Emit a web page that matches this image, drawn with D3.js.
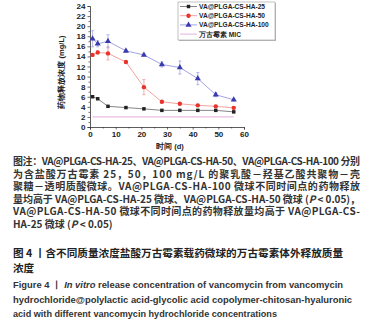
<!DOCTYPE html>
<html>
<head>
<meta charset="utf-8">
<script src="https://cdn.jsdelivr.net/npm/d3@7"></script>
<style>
  body { margin: 0; background: #fff; }
  svg { display: block; }
</style>
</head>
<body>
<div id="chart"></div>
<script>
const width = 370;
const height = 329;

// release data
const days = [1, 3, 7, 14, 21, 28, 35, 42, 49, 56];
const ha25 = [6.0, 5.6, 4.1, 3.85, 3.6, 3.3, 3.3, 3.3, 3.3, 3.0];
const ha50 = [14.3, 14.8, 14.6, 12.9, 7.9, 5.0, 4.6, 4.3, 4.1, 3.8];
const ha100 = [17.5, 16.5, 17.0, 15.1, 14.3, 12.4, 11.8, 9.6, 6.4, 5.4];
const err25 = [0.15, 0.15, 0.15, 0.15, 0.15, 0.15, 0.15, 0.15, 0.15, 0.15];
const err50 = [0.2, 0.3, 1.3, 0.2, 1.5, 0.25, 0.2, 0.2, 0.2, 0.2];
const err100 = [1.6, 0.6, 1.3, 0.2, 0.2, 0.5, 1.3, 1.2, 0.4, 0.2];
const micValue = 2;
const micDays = [1, 56];

const seriesNames = ['VA@PLGA-CS-HA-25', 'VA@PLGA-CS-HA-50', 'VA@PLGA-CS-HA-100'];
const micName = '万古霉素 MIC';
const xTicks = [0, 10, 20, 30, 40, 50, 60];
const yTicks = [0, 2, 4, 6, 8, 10, 12, 14, 16, 18, 20, 22, 24];

// caption lines; *...* marks italic, last flag = justified
const captionLines = [
  ['图注：VA@PLGA-CS-HA-25、VA@PLGA-CS-HA-50、VA@PLGA-CS-HA-100 分别', true],
  ['为含盐酸万古霉素 25，50，100 mg/L 的聚乳酸－羟基乙酸共聚物－壳', true],
  ['聚糖－透明质酸微球。VA@PLGA-CS-HA-100 微球不同时间点的药物释放', true],
  ['量均高于 VA@PLGA-CS-HA-25 微球、VA@PLGA-CS-HA-50 微球 (*P* < 0.05)，', true],
  ['VA@PLGA-CS-HA-50 微球不同时间点的药物释放量均高于 VA@PLGA-CS-', true],
  ['HA-25 微球 (*P* < 0.05)', false],
];
const titleLines = ['图 4 丨含不同质量浓度盐酸万古霉素载药微球的万古霉素体外释放质量', '浓度'];
const englishLines = [
  ['Figure 4 丨 *In vitro* release concentration of vancomycin from vancomycin', 330],
  ['hydrochloride@polylactic acid-glycolic acid copolymer-chitosan-hyaluronic', 339],
  ['acid with different vancomycin hydrochloride concentrations', 264],
];

const svg = d3.select('#chart').append('svg')
  .attr('width', width)
  .attr('height', height)
  .style('font-family', '"Liberation Sans", Arial, sans-serif');

const x = d3.scaleLinear().domain([0, 60]).range([90, 244]);
const y = d3.scaleLinear().domain([0, 24]).range([127, 6]);

// axes
svg.append('g')
  .attr('transform', `translate(0,${y(0)})`)
  .call(d3.axisBottom(x).tickValues(xTicks).tickSize(2.5).tickPadding(2));
svg.append('g')
  .attr('transform', `translate(0,${y(0)})`)
  .call(d3.axisBottom(x).tickValues(d3.range(5, 60, 10)).tickSize(1.5).tickFormat(''))
  .select('.domain').remove();
svg.append('g')
  .attr('transform', `translate(${x(0)},0)`)
  .call(d3.axisLeft(y).tickValues(yTicks).tickSize(2.5).tickPadding(2));
svg.append('g')
  .attr('transform', `translate(${x(0)},0)`)
  .call(d3.axisLeft(y).tickValues(d3.range(1, 24, 2)).tickSize(1.5).tickFormat(''))
  .select('.domain').remove();

svg.selectAll('.domain').attr('stroke', '#333').attr('stroke-width', 0.8);
svg.selectAll('.tick line').attr('stroke', '#333').attr('stroke-width', 0.7);
svg.selectAll('.tick text')
  .attr('fill', '#222')
  .style('font-size', '8px')
  .style('font-weight', 'bold');

svg.append('text')
  .attr('x', 170).attr('y', 149)
  .attr('text-anchor', 'middle')
  .style('font-size', '7.5px')
  .style('font-weight', 'bold')
  .attr('fill', '#222')
  .text('时间 (d)');

svg.append('text')
  .attr('transform', 'translate(64,72) rotate(-90)')
  .attr('text-anchor', 'middle')
  .style('font-size', '7.5px')
  .style('font-weight', 'bold')
  .attr('fill', '#222')
  .text('药物释放浓度 (mg/L)');

// MIC line
svg.append('line')
  .attr('x1', x(micDays[0])).attr('x2', x(micDays[1]))
  .attr('y1', y(micValue)).attr('y2', y(micValue))
  .attr('stroke', '#dca0d6').attr('stroke-width', 0.9);

const series = [
  { vals: ha25, err: err25, mark: '#222', line: '#666', errc: '#888', sym: d3.symbolSquare, size: 12 },
  { vals: ha50, err: err50, mark: '#e8322c', line: '#f08a88', errc: '#ee8a88', sym: d3.symbolCircle, size: 15 },
  { vals: ha100, err: err100, mark: '#3a3ab0', line: '#8c8ce0', errc: '#9a9ade', sym: d3.symbolTriangle, size: 16 },
];

const line = d3.line().x((d) => x(d[0])).y((d) => y(d[1]));

series.forEach((s) => {
  const pts = days.map((d, i) => [d, s.vals[i], s.err[i]]);
  const g = svg.append('g');
  g.append('path')
    .attr('d', line(pts))
    .attr('fill', 'none')
    .attr('stroke', s.line)
    .attr('stroke-width', 0.8);
  const eb = g.selectAll('g.err').data(pts).join('g').attr('class', 'err')
    .attr('stroke', s.errc).attr('stroke-width', 0.7);
  eb.append('line')
    .attr('x1', (d) => x(d[0])).attr('x2', (d) => x(d[0]))
    .attr('y1', (d) => y(d[1] - d[2])).attr('y2', (d) => y(d[1] + d[2]));
  [1, -1].forEach((sgn) => {
    eb.append('line')
      .attr('x1', (d) => x(d[0]) - 1.5).attr('x2', (d) => x(d[0]) + 1.5)
      .attr('y1', (d) => y(d[1] + sgn * d[2])).attr('y2', (d) => y(d[1] + sgn * d[2]));
  });
  g.selectAll('path.pt').data(pts).join('path').attr('class', 'pt')
    .attr('transform', (d) => `translate(${x(d[0])},${y(d[1])})`)
    .attr('d', d3.symbol().type(s.sym).size(s.size))
    .attr('fill', s.mark);
});

// legend
const lg = svg.append('g').attr('transform', 'translate(178,2)');
lg.append('rect').attr('x', 1).attr('y', 1).attr('width', 97).attr('height', 38).attr('fill', '#bbb');
lg.append('rect').attr('width', 97).attr('height', 38).attr('fill', '#fff')
  .attr('stroke', '#999').attr('stroke-width', 0.6);
const legendItems = series.map((s, i) => ({ name: seriesNames[i], s }))
  .concat([{ name: micName, s: null }]);
legendItems.forEach((it, i) => {
  const ly = 4.5 + i * 9.2;
  const row = lg.append('g').attr('transform', `translate(0,${ly})`);
  row.append('line').attr('x1', 2).attr('x2', 19).attr('y1', 0).attr('y2', 0)
    .attr('stroke', it.s ? it.s.line : '#dca0d6').attr('stroke-width', 0.8);
  if (it.s) {
    row.append('path').attr('transform', 'translate(10.5,0)')
      .attr('d', d3.symbol().type(it.s.sym).size(it.s.size))
      .attr('fill', it.s.mark);
  }
  row.append('text').attr('x', 21).attr('y', 2.4)
    .style('font-size', '6.6px').style('font-weight', 'bold').attr('fill', '#222')
    .text(it.name);
});

// caption
const left = 13;
const right = 360;
const capFont = '"Noto Sans CJK SC", "Liberation Sans", sans-serif';

function addSegments(textSel, str) {
  str.split('*').forEach((part, i) => {
    if (!part) return;
    textSel.append('tspan').style('font-style', i % 2 ? 'italic' : 'normal').text(part);
  });
}

captionLines.forEach(([str, justify], i) => {
  const t = svg.append('text')
    .attr('x', left).attr('y', 165 + i * 12.5)
    .style('font-family', capFont)
    .style('font-size', '10px')
    .style('font-weight', 'bold')
    .attr('fill', '#333');
  addSegments(t, str);
  if (justify) t.attr('textLength', right - left).attr('lengthAdjust', 'spacing');
});

titleLines.forEach((str, i) => {
  const t = svg.append('text')
    .attr('x', left).attr('y', 257 + i * 15)
    .style('font-family', capFont)
    .style('font-size', '10.6px')
    .style('font-weight', 'bold')
    .attr('fill', '#222')
    .text(str);
  if (i === 0) t.attr('textLength', 330).attr('lengthAdjust', 'spacing');
});

englishLines.forEach(([str, len], i) => {
  const t = svg.append('text')
    .attr('x', left).attr('y', 288 + i * 14.5)
    .style('font-family', '"Liberation Sans", Arial, sans-serif')
    .style('font-size', '8.8px')
    .style('font-weight', 'bold')
    .attr('fill', '#333')
    .attr('textLength', len)
    .attr('lengthAdjust', 'spacingAndGlyphs');
  addSegments(t, str);
});
</script>
</body>
</html>
